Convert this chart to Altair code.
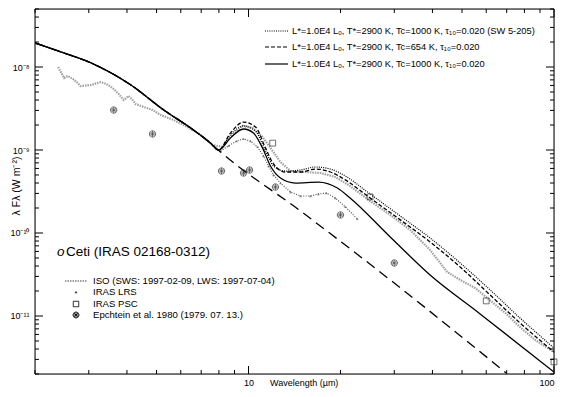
import altair as alt
import pandas as pd

# ---------------- data ----------------
# model: SW 5-205 (dotted)
sw_lam = [2.0, 2.43, 3.05, 4.12, 5.28, 6.47, 7.51, 7.98, 8.73, 9.63, 10.54, 11.36, 12.07, 13.21,
          14.79, 16.56, 18.53, 20.75, 24.5, 31.4, 39.3, 49.3, 61.8, 77.4, 100]
sw_f = [1.95e-8, 1.52e-8, 1.12e-8, 6.07e-9, 3.03e-9, 1.84e-9, 1.21e-9, 1.0e-9, 1.52e-9, 1.95e-9,
        1.69e-9, 9.73e-10, 6.41e-10, 5.58e-10, 5.74e-10, 6.24e-10, 5.90e-10, 4.86e-10, 3.12e-10,
        1.60e-10, 8.71e-11, 4.35e-11, 2.06e-11, 9.46e-12, 4.11e-12]

# model: Tc=654 K (dashed)
c654_lam = [2.0, 2.43, 3.05, 4.12, 5.28, 6.47, 7.51, 7.98, 8.73, 9.63, 10.54, 11.36, 12.07, 13.21,
            14.79, 16.56, 18.53, 20.75, 24.5, 31.4, 39.3, 49.3, 61.8, 77.4, 100]
c654_f = [1.95e-8, 1.52e-8, 1.12e-8, 6.07e-9, 3.03e-9, 1.84e-9, 1.21e-9, 1.0e-9, 1.60e-9, 2.17e-9,
          1.89e-9, 1.06e-9, 6.78e-10, 5.43e-10, 5.43e-10, 5.90e-10, 5.43e-10, 4.36e-10, 2.79e-10,
          1.44e-10, 7.80e-11, 3.89e-11, 1.79e-11, 8.24e-12, 3.68e-12]

# model: Tc=1000 K (solid)
c1000_lam = [2.0, 2.43, 3.05, 4.12, 5.28, 6.47, 7.51, 7.98, 8.73, 9.63, 10.38, 11.11, 11.80, 12.72,
             14.24, 16.93, 19.54, 21.5, 29.1, 39.3, 57.3, 100]
c1000_f = [1.95e-8, 1.52e-8, 1.12e-8, 6.07e-9, 3.03e-9, 1.84e-9, 1.21e-9, 1.0e-9, 1.40e-9, 1.79e-9,
           1.60e-9, 1.06e-9, 6.41e-10, 4.60e-10, 4.00e-10, 4.11e-10, 3.48e-10, 2.64e-10, 8.95e-11,
           3.12e-11, 1.06e-11, 2.11e-12]

# photosphere (long dashed)
ph_lam = [2.0, 2.43, 3.05, 4.12, 5.28, 6.47, 7.51, 8.10, 14.8, 29.1, 69.7]
ph_f = [1.95e-8, 1.52e-8, 1.12e-8, 6.07e-9, 3.03e-9, 1.84e-9, 1.21e-9, 9.46e-10, 1.84e-10, 2.72e-11, 2.06e-12]

# ISO SWS+LWS
iso_lam = [2.38, 2.43, 2.49, 2.56, 2.66, 2.74, 2.82, 3.05, 3.28, 3.43, 3.59, 3.76, 3.90, 4.05, 4.15,
           4.27, 4.54, 4.86, 5.16, 5.69, 6.32, 6.97, 7.63, 8.22, 8.87, 9.56, 10.30, 11.11, 11.80,
           12.72, 13.72, 15.36, 17.19, 19.24, 21.5, 25.0, 29.1, 33.8, 39.3, 44.7, 49.3, 55.2, 60.4,
           69.2, 77.4, 86.7, 100]
iso_f = [1.0e-8, 8.71e-9, 7.37e-9, 7.80e-9, 7.17e-9, 6.59e-9, 5.90e-9, 6.07e-9, 6.59e-9, 6.24e-9,
         5.58e-9, 4.73e-9, 4.00e-9, 4.48e-9, 4.11e-9, 3.58e-9, 3.30e-9, 3.03e-9, 2.64e-9, 2.30e-9,
         1.89e-9, 1.52e-9, 1.15e-9, 1.09e-9, 1.52e-9, 1.95e-9, 1.84e-9, 1.44e-9, 1.06e-9, 7.16e-10,
         5.58e-10, 5.43e-10, 5.28e-10, 4.73e-10, 3.68e-10, 2.43e-10, 1.65e-10, 1.09e-10, 6.24e-11,
         3.39e-11, 2.72e-11, 2.17e-11, 1.65e-11, 1.09e-11, 7.36e-12, 5.14e-12, 3.68e-12]

# IRAS LRS
lrs_lam = [8.10, 8.60, 9.14, 9.63, 10.15, 10.70, 11.19, 11.63, 12.07, 12.72, 13.72, 14.79, 15.94,
           16.93, 17.98, 19.24, 20.75, 22.7]
lrs_f = [9.73e-10, 1.12e-9, 1.28e-9, 1.36e-9, 1.28e-9, 1.09e-9, 8.47e-10, 6.41e-10, 5.0e-10, 4.0e-10,
         3.12e-10, 2.79e-10, 2.79e-10, 2.95e-10, 3.03e-10, 2.64e-10, 2.06e-10, 1.48e-10]

# IRAS PSC
psc_lam = [12, 25, 60, 100]
psc_f = [1.21e-9, 2.72e-10, 1.52e-11, 2.8e-12]

# Epchtein et al. 1980
ep_lam = [3.62, 4.85, 8.16, 9.63, 10.08, 12.25, 20.0, 30.0]
ep_f = [3.03e-9, 1.56e-9, 5.58e-10, 5.28e-10, 5.74e-10, 3.58e-10, 1.65e-10, 4.35e-11]

x_ticks = [2, 3, 4, 5, 6, 7, 8, 9, 20, 30, 40, 50, 60, 70, 80, 90]
x_major = [10, 100]
y_major = [1e-11, 1e-10, 1e-9, 1e-8]
y_ticks = [m * 10.0 ** k for k in range(-12, -7) for m in range(2, 10) if 1.99e-12 <= m * 10.0 ** k <= 5.01e-8]

model_labels = [
    "L*=1.0E4 Lₒ, T*=2900 K, Tc=1000 K, τ₁₀=0.020 (SW 5-205)",
    "L*=1.0E4 Lₒ, T*=2900 K, Tc=654 K, τ₁₀=0.020",
    "L*=1.0E4 Lₒ, T*=2900 K, Tc=1000 K, τ₁₀=0.020",
]
data_labels = [
    "ISO (SWS: 1997-02-09, LWS: 1997-07-04)",
    "IRAS LRS",
    "IRAS PSC",
    "Epchtein et al. 1980 (1979. 07. 13.)",
]

# ---------------- chart ----------------
W, H = 519, 365
FONT = "Liberation Sans"
xs = alt.Scale(type="log", domain=[2, 100], nice=False)
ys = alt.Scale(type="log", domain=[2e-12, 5e-8], nice=False)

ax_x_labels = alt.Axis(orient="bottom", values=x_major, ticks=False, tickSize=0, domain=False, labelPadding=4,
                       labelExpr="format(datum.value, 'd')", labelFont=FONT, labelFontSize=9,
                       labelColor="black", grid=False, title=None)
ax_y_labels = alt.Axis(orient="left", values=y_major, ticks=False, tickSize=0, domain=False, labelPadding=6,
                       labelExpr="datum.value < 5e-11 ? '10⁻¹¹' : datum.value < 5e-10 ? '10⁻¹⁰' : datum.value < 5e-9 ? '10⁻⁹' : '10⁻⁸'",
                       labelFont=FONT, labelFontSize=9, labelColor="black", grid=False, title=None)


def enc(xaxis=None, yaxis=None):
    return dict(x=alt.X("lam:Q", scale=xs, axis=xaxis), y=alt.Y("f:Q", scale=ys, axis=yaxis))


def frame(lam, f):
    return pd.DataFrame({"lam": lam, "f": f})


iso = alt.Chart(frame(iso_lam, iso_f)).mark_line(
    color="#a0a0a0", strokeDash=[1.5, 1], strokeWidth=2.2, clip=True
).encode(**enc(ax_x_labels, ax_y_labels))

lrs_line = alt.Chart(frame(lrs_lam, lrs_f)).mark_line(
    color="#555555", strokeDash=[1, 1.5], strokeWidth=1.2, clip=True
).encode(**enc())
lrs_pts = alt.Chart(frame(lrs_lam, lrs_f)).mark_point(
    shape="triangle-up", size=7, filled=True, color="#555555", clip=True
).encode(**enc())

ph = alt.Chart(frame(ph_lam, ph_f)).mark_line(
    color="black", strokeDash=[10, 6], strokeWidth=1.3, clip=True, interpolate="monotone"
).encode(**enc())
m_sw = alt.Chart(frame(sw_lam, sw_f)).mark_line(
    color="black", strokeDash=[1, 1.2], strokeWidth=1.2, clip=True, interpolate="monotone"
).encode(**enc())
m_654 = alt.Chart(frame(c654_lam, c654_f)).mark_line(
    color="black", strokeDash=[4, 2], strokeWidth=1.3, clip=True, interpolate="monotone"
).encode(**enc())
m_1000 = alt.Chart(frame(c1000_lam, c1000_f)).mark_line(
    color="black", strokeWidth=1.3, clip=True, interpolate="monotone"
).encode(**enc())

psc = alt.Chart(frame(psc_lam, psc_f)).mark_point(
    shape="square", size=34, filled=False, color="black", strokeWidth=0.8
).encode(**enc())

CIRC = "M-1,0A1,1,0,1,1,1,0A1,1,0,1,1,-1,0Z M-0.7,-0.7L0.7,0.7 M-0.7,0.7L0.7,-0.7 M0,-1L0,1 M-1,0L1,0"
ep = alt.Chart(frame(ep_lam, ep_f)).mark_point(
    shape=CIRC, size=40, filled=False, color="black", strokeWidth=0.8, clip=True
).encode(**enc())

# ---- frame and inward ticks (positioned through the scales) ----
one = pd.DataFrame({"s": [""]})
box = alt.Chart(one).mark_rect(fill=None, stroke="black", strokeWidth=1).encode(
    x=alt.value(0), x2=alt.value(W), y=alt.value(0), y2=alt.value(H))


def xtick_layer(vals, y1, y2):
    return alt.Chart(pd.DataFrame({"t": vals})).mark_rule(color="black", strokeWidth=1).encode(
        x=alt.X("t:Q", scale=xs, axis=None), y=alt.value(y1), y2=alt.value(y2))


def ytick_layer(vals, x1, x2):
    return alt.Chart(pd.DataFrame({"t": vals})).mark_rule(color="black", strokeWidth=1).encode(
        y=alt.Y("t:Q", scale=ys, axis=None), x=alt.value(x1), x2=alt.value(x2))


ticks = [
    xtick_layer(x_ticks, H, H - 4), xtick_layer(x_major, H, H - 8),
    xtick_layer(x_ticks, 0, 4), xtick_layer(x_major, 0, 8),
    ytick_layer(y_ticks, 0, 4), ytick_layer(y_major, 0, 8),
    ytick_layer(y_ticks, W, W - 4), ytick_layer(y_major, W, W - 8),
]


def txt(s, x, y, size=9, style="normal", angle=0):
    kw = dict(align="left", baseline="middle", font=FONT, fontSize=size, color="black", fontStyle=style)
    if angle:
        kw.update(angle=angle, align="center")
    return alt.Chart(pd.DataFrame({"s": [s]})).mark_text(**kw).encode(
        x=alt.value(x), y=alt.value(y), text="s:N")


def rule(x1, x2, y, dash=None, color="black", width=1.2):
    kw = dict(color=color, strokeWidth=width)
    if dash:
        kw["strokeDash"] = dash
    return alt.Chart(one).mark_rule(**kw).encode(x=alt.value(x1), x2=alt.value(x2), y=alt.value(y))


def sym(shape, x, y, size, filled, width=0.8, color="black"):
    return alt.Chart(one).mark_point(shape=shape, size=size, filled=filled, color=color,
                                     strokeWidth=width, opacity=1).encode(x=alt.value(x), y=alt.value(y))


# legend (top right): plot coordinates (page - (35, 9))
leg_rows = [22, 38, 55]
leg = [
    rule(230, 253, leg_rows[0], dash=[1, 1.2]),
    rule(230, 253, leg_rows[1], dash=[4, 2]),
    rule(230, 253, leg_rows[2]),
] + [txt(s, 257, y, size=9.3) for s, y in zip(model_labels, leg_rows)]

rows2 = [272, 283, 295, 306]
leg2 = [
    rule(30, 52, rows2[0], dash=[1.5, 1], color="#a0a0a0", width=2),
    sym("triangle-up", 41, rows2[1], 8, True, color="#333333"),
    sym("square", 41, rows2[2], 30, False),
    sym(CIRC, 41, rows2[3], 36, False),
] + [txt(s, 58, y, size=9.6) for s, y in zip(data_labels, rows2)]

titles = [
    txt("o", 22, 243, size=13.5, style="italic"),
    txt("Ceti (IRAS 02168-0312)", 31, 243, size=13.5),
    txt("Wavelength (µm)", 235, 374, size=9),
    txt("λ Fλ (W m⁻²)", -18, 177, size=10.5, angle=270),
]

chart = alt.layer(
    iso, box, *ticks, lrs_line, lrs_pts, ph, m_sw, m_654, m_1000, psc, ep, *leg, *leg2, *titles
).resolve_axis(x="independent", y="independent").properties(
    width=W, height=H,
    autosize=alt.AutoSizeParams(type="none"),
    padding={"left": 27, "top": 1, "right": 8, "bottom": 15},
).configure_view(stroke=None).configure(background="white")

chart.save("out.html", embed_options={"renderer": "svg", "actions": False})
